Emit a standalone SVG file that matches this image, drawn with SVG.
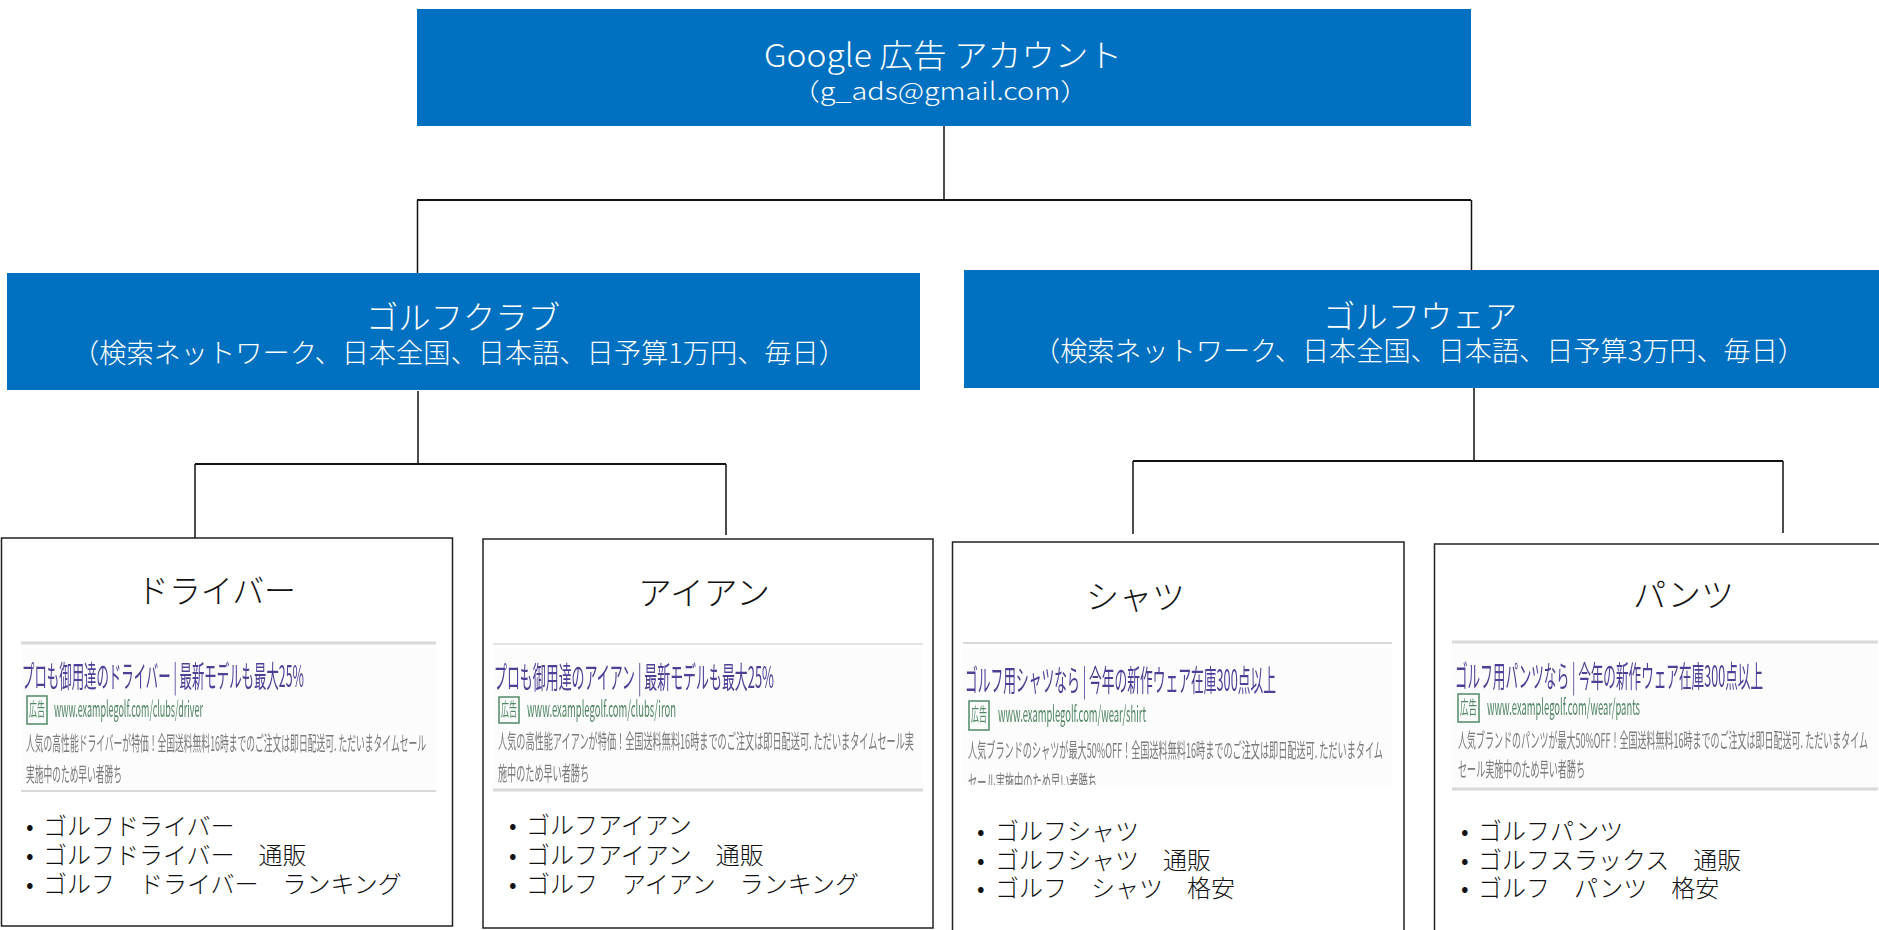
<svg xmlns="http://www.w3.org/2000/svg" width="1879" height="930" viewBox="0 0 1879 930">
<style>
text{font-family:"Noto Sans CJK JP","Noto Sans",sans-serif;font-weight:300}
.blue{fill:#0070c0}
.box{fill:#fff;stroke:#222;stroke-width:1.5}
.w1{fill:#fff;font-size:32px}
.w2{fill:#fff;font-size:27px}
.w3{fill:#fff;font-size:24px}
.title{fill:#111;font-size:33px}
.kw{fill:#111;font-size:24px}
.panel{fill:#fcfcfc}
.rule{stroke:#d9d9d9;fill:none}
.hl{fill:#4b3f96;font-size:30px;font-weight:400}
.url{fill:#4f8562;font-size:22px;font-weight:400}
.ds{fill:#7a7a7a;font-size:20px;font-weight:400}
.adb{fill:none;stroke:#4f8a65;stroke-width:1.5}
.adt{fill:#4f8a65;font-size:18px;font-weight:400}
#connectors path{fill:none;stroke:#111;stroke-width:1.5}
</style>
<defs>
<filter id="soft" x="-2%" y="-5%" width="104%" height="110%"><feGaussianBlur stdDeviation="0.4"/></filter>
<clipPath id="cut3"><rect x="960" y="640" width="436" height="145"/></clipPath>
</defs>

<g id="connectors">
<path d="M944 126V200"/>
<path d="M417 200H1471" style="stroke-width:2"/>
<path d="M417.500 200V273"/>
<path d="M1471.500 200V270"/>
<path d="M418 391V464"/>
<path d="M195 464H726" style="stroke-width:2"/>
<path d="M195 464V538"/>
<path d="M726 464V535"/>
<path d="M1474 388V461"/>
<path d="M1133 461H1783" style="stroke-width:2"/>
<path d="M1133 461V534"/>
<path d="M1783 461V533"/>
</g>

<g id="node-account">
<rect class="blue" x="417" y="9" width="1054" height="117"/>
<text class="w1" x="764" y="67" textLength="358" lengthAdjust="spacingAndGlyphs">Google 広告 アカウント</text>
<text class="w3" x="791" y="100" textLength="298" lengthAdjust="spacingAndGlyphs">（g_ads@gmail.com）</text>
</g>

<g id="node-club">
<rect class="blue" x="7" y="273" width="913" height="117"/>
<text class="w1" x="366" y="329" textLength="194" lengthAdjust="spacingAndGlyphs">ゴルフクラブ</text>
<text class="w2" x="72" y="363" textLength="774" lengthAdjust="spacingAndGlyphs">（検索ネットワーク、日本全国、日本語、日予算1万円、毎日）</text>
</g>

<g id="node-wear">
<rect class="blue" x="964" y="270" width="915" height="118"/>
<text class="w1" x="1323" y="328" textLength="194" lengthAdjust="spacingAndGlyphs">ゴルフウェア</text>
<text class="w2" x="1033" y="361" textLength="772" lengthAdjust="spacingAndGlyphs">（検索ネットワーク、日本全国、日本語、日予算3万円、毎日）</text>
</g>

<g id="node-driver">
<rect class="box" x="1.500" y="538" width="451" height="388"/>
<text class="title" x="137" y="603" textLength="159" lengthAdjust="spacingAndGlyphs">ドライバー</text>
<g filter="url(#soft)">
<rect class="panel" x="21" y="648" width="415" height="142"/>
<path class="rule" d="M21 643H436" stroke-width="3"/>
<path class="rule" d="M21 791H436" stroke-width="2"/>
<text class="hl" x="22" y="687" textLength="282" lengthAdjust="spacingAndGlyphs">プロも御用達のドライバー | 最新モデルも最大25%</text>
<rect class="adb" x="27" y="696" width="20" height="28"/>
<text class="adt" x="29" y="716" textLength="16" lengthAdjust="spacingAndGlyphs">広告</text>
<text class="url" x="54" y="717" textLength="149" lengthAdjust="spacingAndGlyphs">www.examplegolf.com/clubs/driver</text>
<text class="ds" x="26" y="751" textLength="400" lengthAdjust="spacingAndGlyphs">人気の高性能ドライバーが特価！全国送料無料16時までのご注文は即日配送可. ただいまタイムセール</text>
<text class="ds" x="26" y="782" textLength="96" lengthAdjust="spacingAndGlyphs">実施中のため早い者勝ち</text>
</g>
<text class="kw" y="835"><tspan x="26">•</tspan><tspan x="43">ゴルフドライバー</tspan></text>
<text class="kw" y="864"><tspan x="26">•</tspan><tspan x="43">ゴルフドライバー　通販</tspan></text>
<text class="kw" y="893"><tspan x="26">•</tspan><tspan x="43">ゴルフ　ドライバー　ランキング</tspan></text>
</g>

<g id="node-iron">
<rect class="box" x="483" y="539" width="450" height="389"/>
<text class="title" x="638" y="605" textLength="132" lengthAdjust="spacingAndGlyphs">アイアン</text>
<g filter="url(#soft)">
<rect class="panel" x="493" y="648" width="430" height="141"/>
<path class="rule" d="M493 644H923" stroke-width="1.5"/>
<path class="rule" d="M493 790H923" stroke-width="3"/>
<text class="hl" x="494" y="688" textLength="280" lengthAdjust="spacingAndGlyphs">プロも御用達のアイアン | 最新モデルも最大25%</text>
<rect class="adb" x="499" y="697" width="20" height="26"/>
<text class="adt" x="501" y="716" textLength="16" lengthAdjust="spacingAndGlyphs">広告</text>
<text class="url" x="527" y="717" textLength="149" lengthAdjust="spacingAndGlyphs">www.examplegolf.com/clubs/iron</text>
<text class="ds" x="498" y="749" textLength="416" lengthAdjust="spacingAndGlyphs">人気の高性能アイアンが特価！全国送料無料16時までのご注文は即日配送可. ただいまタイムセール実</text>
<text class="ds" x="498" y="781" textLength="91" lengthAdjust="spacingAndGlyphs">施中のため早い者勝ち</text>
</g>
<text class="kw" y="834"><tspan x="509">•</tspan><tspan x="526">ゴルフアイアン</tspan></text>
<text class="kw" y="864"><tspan x="509">•</tspan><tspan x="526">ゴルフアイアン　通販</tspan></text>
<text class="kw" y="893"><tspan x="509">•</tspan><tspan x="526">ゴルフ　アイアン　ランキング</tspan></text>
</g>

<g id="node-shirt">
<rect class="box" x="952.500" y="542" width="451.500" height="400"/>
<text class="title" x="1086" y="609" textLength="99" lengthAdjust="spacingAndGlyphs">シャツ</text>
<g filter="url(#soft)">
<rect class="panel" x="963" y="648" width="429" height="137"/>
<path class="rule" d="M963 643H1392" stroke-width="2"/>
<text class="hl" x="965" y="691" textLength="311" lengthAdjust="spacingAndGlyphs">ゴルフ用シャツなら | 今年の新作ウェア在庫300点以上</text>
<rect class="adb" x="969" y="701" width="20" height="29"/>
<text class="adt" x="971" y="721" textLength="16" lengthAdjust="spacingAndGlyphs">広告</text>
<text class="url" x="998" y="722" textLength="148" lengthAdjust="spacingAndGlyphs">www.examplegolf.com/wear/shirt</text>
<text class="ds" x="968" y="758" textLength="415" lengthAdjust="spacingAndGlyphs">人気ブランドのシャツが最大50%OFF！全国送料無料16時までのご注文は即日配送可. ただいまタイム</text>
<g clip-path="url(#cut3)"><text class="ds" x="968" y="790" textLength="129" lengthAdjust="spacingAndGlyphs">セール実施中のため早い者勝ち</text></g>
</g>
<text class="kw" y="840"><tspan x="977">•</tspan><tspan x="995">ゴルフシャツ</tspan></text>
<text class="kw" y="869"><tspan x="977">•</tspan><tspan x="995">ゴルフシャツ　通販</tspan></text>
<text class="kw" y="897"><tspan x="977">•</tspan><tspan x="995">ゴルフ　シャツ　格安</tspan></text>
</g>

<g id="node-pants">
<rect class="box" x="1434.500" y="544" width="460" height="400"/>
<text class="title" x="1633" y="607" textLength="101" lengthAdjust="spacingAndGlyphs">パンツ</text>
<g filter="url(#soft)">
<rect class="panel" x="1452" y="642" width="426" height="148"/>
<path class="rule" d="M1452 642H1878" stroke-width="3"/>
<path class="rule" d="M1452 789H1878" stroke-width="3"/>
<text class="hl" x="1455" y="687" textLength="308" lengthAdjust="spacingAndGlyphs">ゴルフ用パンツなら | 今年の新作ウェア在庫300点以上</text>
<rect class="adb" x="1458" y="694" width="21" height="28"/>
<text class="adt" x="1460" y="714" textLength="17" lengthAdjust="spacingAndGlyphs">広告</text>
<text class="url" x="1487" y="715" textLength="153" lengthAdjust="spacingAndGlyphs">www.examplegolf.com/wear/pants</text>
<text class="ds" x="1458" y="748" textLength="410" lengthAdjust="spacingAndGlyphs">人気ブランドのパンツが最大50%OFF！全国送料無料16時までのご注文は即日配送可. ただいまタイム</text>
<text class="ds" x="1458" y="777" textLength="127" lengthAdjust="spacingAndGlyphs">セール実施中のため早い者勝ち</text>
</g>
<text class="kw" y="840"><tspan x="1461">•</tspan><tspan x="1478">ゴルフパンツ</tspan></text>
<text class="kw" y="869"><tspan x="1461">•</tspan><tspan x="1478">ゴルフスラックス　通販</tspan></text>
<text class="kw" y="897"><tspan x="1461">•</tspan><tspan x="1478">ゴルフ　パンツ　格安</tspan></text>
</g>
</svg>
